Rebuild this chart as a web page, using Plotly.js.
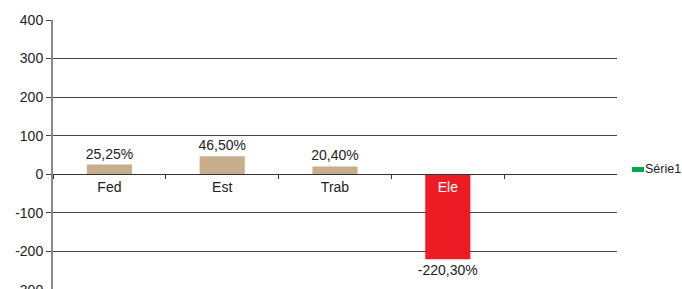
<!DOCTYPE html>
<html>
<head>
<meta charset="utf-8">
<script src="https://cdn.plot.ly/plotly-3.0.1.min.js"></script>
<style>html,body{margin:0;padding:0;background:#fff;overflow:hidden}</style>
</head>
<body>
<div id="chart" style="width:682px;height:290px"></div>
<script>
const categories = ['Fed', 'Est', 'Trab', 'Ele'];
const values = [25.25, 46.5, 20.4, -220.3];
const seriesName = 'Série1';
const yTicks = [-300, -200, -100, 0, 100, 200, 300, 400];

const FONT = '"Liberation Sans", Arial, sans-serif';
const tan = '#C6AD8C', red = '#ED1C24', green = '#00A651';

const barColors = values.map(v => v < 0 ? red : tan);
const tickText = categories.map((c, i) => values[i] < 0 ? '<span style="color:#ffffff">' + c + '</span>' : c);

const traces = [
  {
    type: 'bar',
    name: seriesName,
    x: categories,
    y: values,
    width: 0.4,
    marker: {color: barColors, line: {width: 0}},
    texttemplate: '%{y:.2f}%',
    textposition: 'outside',
    constraintext: 'none',
    cliponaxis: false,
    textfont: {family: FONT, size: 14, color: '#222'},
    showlegend: false,
    hoverinfo: 'skip'
  }
];

// legend swatch + label (placed in paper coordinates to the right of the plot)
const plotL = 53, plotW = 564, plotT = 20, plotH = 270;
const px = x => (x - plotL) / plotW;
const py = y => (plotT + plotH - y) / plotH;

const layout = {
  width: 682,
  height: 290,
  margin: {l: 53, r: 65, t: 20, b: 0, pad: 0, autoexpand: false},
  paper_bgcolor: '#fff',
  plot_bgcolor: '#fff',
  separators: ',.',
  font: {family: FONT, size: 14, color: '#222'},
  showlegend: false,
  shapes: [
    {type: 'rect', xref: 'paper', yref: 'paper',
     x0: px(632), x1: px(644), y0: py(172), y1: py(167),
     fillcolor: green, line: {width: 0}, layer: 'above'}
  ],
  annotations: [
    {xref: 'paper', yref: 'paper', x: px(643), y: py(168.5),
     xanchor: 'left', yanchor: 'middle', showarrow: false,
     text: seriesName, font: {family: FONT, size: 12.5, color: '#222'}}
  ],
  xaxis: {
    type: 'category',
    categoryorder: 'array',
    categoryarray: categories,
    range: [-0.5, 4.5],
    anchor: 'free',
    position: 3 / 7,
    showline: true,
    linecolor: '#333',
    linewidth: 1,
    tickson: 'boundaries',
    ticks: 'outside',
    ticklen: 4,
    tickcolor: '#333',
    tickmode: 'array',
    tickvals: categories,
    ticktext: tickText,
    tickfont: {family: FONT, size: 14, color: '#222'},
    showgrid: false,
    zeroline: false,
    fixedrange: true
  },
  yaxis: {
    range: [-300, 400],
    tickmode: 'array',
    tickvals: yTicks,
    ticktext: yTicks.map(String),
    ticklabeloverflow: 'allow',
    showline: true,
    linecolor: '#8a8a8a',
    linewidth: 2,
    ticks: 'outside',
    ticklen: 5,
    tickcolor: '#444',
    showgrid: true,
    gridcolor: '#444',
    gridwidth: 1,
    zeroline: false,
    tickfont: {family: FONT, size: 14, color: '#222'},
    fixedrange: true
  }
};

Plotly.newPlot('chart', traces, layout, {displayModeBar: false, staticPlot: true});
</script>
</body>
</html>
